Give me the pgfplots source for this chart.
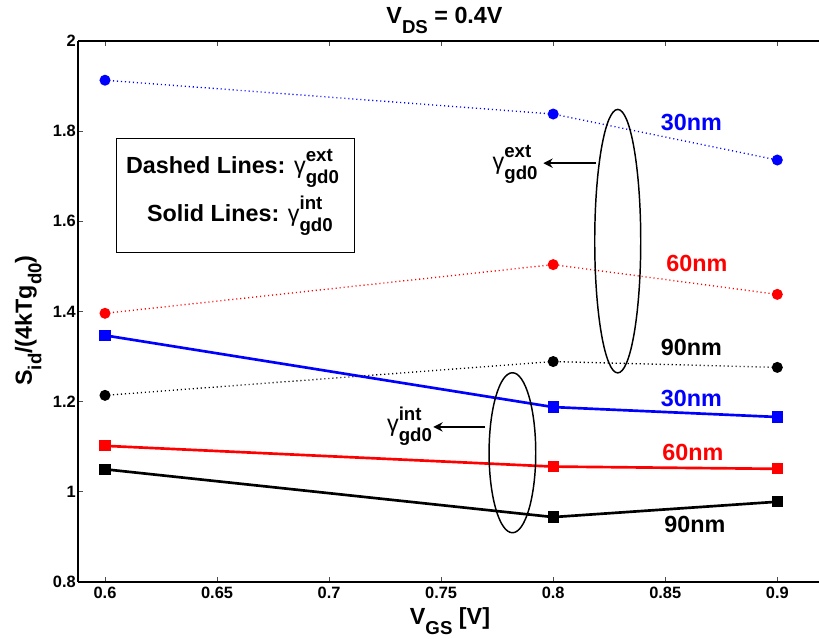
\documentclass[border=0pt]{standalone}
\usepackage{fontspec}
\setmainfont{Liberation Sans}
\usepackage{pgfplots}
\pgfplotsset{compat=1.18}
\usetikzlibrary{arrows.meta}
\newcommand{\bigf}{\fontsize{17.5}{19}\selectfont\bfseries}
\newcommand{\subf}{\fontsize{14}{14}\selectfont\bfseries}
\newcommand{\sub}[1]{\raisebox{-7pt}{\subf #1}}
\newcommand{\gam}[1]{{\mdseries γ}\rlap{\raisebox{8.5pt}{\subf #1}}\raisebox{-7.5pt}{\subf gd0}}
\begin{document}
\begin{tikzpicture}
\begin{axis}[
  name=ax,
  scale only axis, width=555.75pt, height=405.75pt,
  xmin=0.58795, xmax=0.91861, ymin=0.8, ymax=2,
  axis x line*=box, axis y line*=left,
  axis line style={line width=1.1pt},
  xtick={0.6,0.65,0.7,0.75,0.8,0.85,0.9},
  ytick={0.8,1,1.2,1.4,1.6,1.8,2},
  tick align=inside,
  major tick length=4pt,
  tick style={line width=0.6pt, color=black!70},
  /pgf/number format/assume math mode=true,
  tick label style={font=\fontsize{12.3}{14}\selectfont\bfseries},
  yticklabel style={inner xsep=1.5pt},
  clip=false,
]
% dotted (extrinsic)
\addplot[blue, line width=1pt, dash pattern=on 0.8pt off 2.2pt, mark=*, mark size=3.6pt, mark options={solid}]
  coordinates {(0.6,1.913) (0.8,1.838) (0.9,1.736)};
\addplot[red, line width=1pt, dash pattern=on 0.8pt off 2.2pt, mark=*, mark size=3.6pt, mark options={solid}]
  coordinates {(0.6,1.396) (0.8,1.504) (0.9,1.438)};
\addplot[black, line width=1pt, dash pattern=on 0.8pt off 2.2pt, mark=*, mark size=3.6pt, mark options={solid}]
  coordinates {(0.6,1.214) (0.8,1.289) (0.9,1.276)};
% solid (intrinsic)
\addplot[blue, line width=2pt, mark=square*, mark size=3.2pt]
  coordinates {(0.6,1.347) (0.8,1.188) (0.9,1.166)};
\addplot[red, line width=2pt, mark=square*, mark size=3.2pt]
  coordinates {(0.6,1.102) (0.8,1.056) (0.9,1.051)};
\addplot[black, line width=2pt, mark=square*, mark size=3.2pt]
  coordinates {(0.6,1.050) (0.8,0.944) (0.9,0.978)};

% ellipses and arrows
\draw[line width=1.1pt] (axis cs:0.8288,1.556) ellipse [x radius=17.25pt, y radius=98.8pt];
\draw[line width=1.1pt] (axis cs:0.7818,1.0867) ellipse [x radius=17.5pt, y radius=60pt];
\draw[line width=1.8pt, -{Stealth[length=7pt,width=7pt]}] (axis cs:0.8191,1.729) -- (axis cs:0.7956,1.729);
\draw[line width=1.8pt, -{Stealth[length=7pt,width=7pt]}] (axis cs:0.7696,1.144) -- (axis cs:0.7465,1.144);
\node[anchor=base] at (axis cs:0.783,1.7155) {\bigf\gam{ext}};
\node[anchor=base] at (axis cs:0.7359,1.1333) {\bigf\gam{int}};

% box
\draw[line width=0.8pt] (axis cs:0.6052,1.5317) rectangle (axis cs:0.7112,1.7837);
\node[anchor=base] at (axis cs:0.6569,1.7066) {\bigf Dashed Lines: \gam{ext}};
\node[anchor=base] at (axis cs:0.6602,1.6006) {\bigf Solid Lines: \gam{int}};

% size labels
\node[anchor=base, text=blue] at (axis cs:0.8617,1.8006) {\bigf 30nm};
\node[anchor=base, text=red] at (axis cs:0.8641,1.4895) {\bigf 60nm};
\node[anchor=base, text=black] at (axis cs:0.8617,1.3022) {\bigf 90nm};
\node[anchor=base, text=blue] at (axis cs:0.8617,1.1895) {\bigf 30nm};
\node[anchor=base, text=red] at (axis cs:0.8623,1.0689) {\bigf 60nm};
\node[anchor=base, text=black] at (axis cs:0.8632,0.9104) {\bigf 90nm};

% title and axis labels
\node[anchor=base, yshift=12.75pt] at (rel axis cs:0.4946,1) {\bigf V\sub{DS} = 0.4V};
\node[anchor=base, yshift=-32.25pt] at (rel axis cs:0.502,0) {\bigf V\sub{GS} [V]};
\node[rotate=90, anchor=base] at (rel axis cs:-0.0621,0.4834) {\bigf S\sub{id}/(4kTg\sub{d0})};
\end{axis}
\pgfresetboundingbox
\path[use as bounding box] ([xshift=-58.5pt, yshift=-42.75pt]ax.south west) rectangle ([yshift=30.75pt]ax.north east);
\end{tikzpicture}
\end{document}
